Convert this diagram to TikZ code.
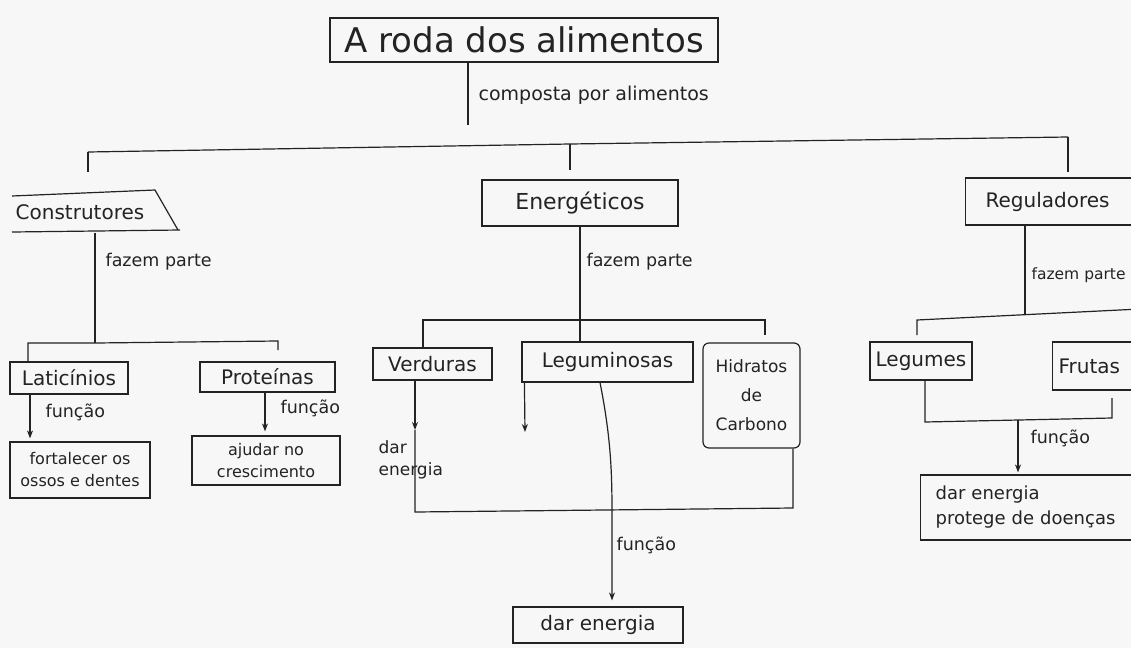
\documentclass[tikz,border=0pt]{standalone}
\usepackage{fontspec}
\setmainfont{DejaVu Sans}
\usetikzlibrary{arrows.meta,calc}
\definecolor{ink}{RGB}{35,35,35}
\definecolor{paper}{RGB}{247,247,247}
\begin{document}
\begin{tikzpicture}[x=1pt,y=-1pt,line width=1.2pt,draw=ink,text=ink,
  box/.style={draw=ink,rectangle,inner sep=0pt,align=center,font=\fontsize{20}{24}\selectfont},
  small/.style={draw=ink,rectangle,inner sep=0pt,align=center,font=\fontsize{16}{22}\selectfont},
  lbl/.style={inner sep=0pt,font=\fontsize{17.5}{22}\selectfont},
  arr/.style={-{Stealth[length=8pt,width=6pt]}}]
\useasboundingbox (0,0) rectangle (1131,648);
\fill[paper] (0,0) rectangle (1131,648);
\clip (0,0) rectangle (1131,648);

% ---------- nodes ----------
\node[box,font=\fontsize{34}{38}\selectfont,minimum width=388pt,minimum height=44pt] (title) at (524,40) {A roda dos alimentos};
\node[lbl,font=\fontsize{19}{23}\selectfont,anchor=west] (comp) at (478,95) {composta por alimentos};

\node[box,draw=none,minimum width=136pt,minimum height=40pt] (constr) at (80,212) {Construtores};
\node[box,font=\fontsize{22}{26}\selectfont,minimum width=196pt,minimum height=46pt] (ener) at (580,203) {Energéticos};
\node[box,anchor=west,align=left,text width=215pt,inner xsep=20pt,minimum height=47pt] (regul) at (965,201.5) {Reguladores};

\node[lbl,anchor=west] (fp1) at (105,262) {fazem parte};
\node[lbl,anchor=west] (fp2) at (586,262) {fazem parte};
\node[lbl,anchor=west,font=\fontsize{15.5}{20}\selectfont] (fp3) at (1031,275) {fazem parte};

\node[box,minimum width=118pt,minimum height=32pt] (lat) at (69,378) {Laticínios};
\node[box,minimum width=135pt,minimum height=30pt] (prot) at (267.5,377) {Proteínas};
\node[small,minimum width=140pt,minimum height=56pt] (fort) at (80,470) {fortalecer os\\ossos e dentes};
\node[small,minimum width=148pt,minimum height=49pt] (ajud) at (266,460.5) {ajudar no\\crescimento};
\node[lbl,anchor=west] (f1) at (45,412) {função};
\node[lbl,anchor=west] (f2) at (280,408) {função};

\node[box,minimum width=119pt,minimum height=32pt] (verd) at (432.5,364) {Verduras};
\node[box,minimum width=171pt,minimum height=40pt] (legum) at (607.5,362) {Leguminosas};
\node[box,rounded corners=6pt,font=\fontsize{17}{29}\selectfont,minimum width=97pt,minimum height=105pt] (hidr) at (751.5,395.5) {Hidratos\\de\\Carbono};
\node[lbl,anchor=north west,align=left,font=\fontsize{17}{22}\selectfont] (de1) at (378,440) {dar\\energia};
\node[lbl,anchor=west] (f3) at (616,545) {função};
\node[box,minimum width=170pt,minimum height=36pt] (darE) at (598,625) {dar energia};

\node[box,minimum width=102pt,minimum height=38pt] (legm) at (921,361) {Legumes};
\node[box,anchor=west,align=left,text width=100pt,inner xsep=6pt,minimum height=48pt] (fruta) at (1052,366) {Frutas};
\node[lbl,anchor=west] (f4) at (1030,438) {função};
\node[box,anchor=west,align=left,text width=230pt,inner xsep=15pt,minimum height=65pt,font=\fontsize{18}{25}\selectfont] (regE) at (920,507.5) {dar energia\\protege de doenças};

% ---------- Construtores outline ----------
\draw (12,196) -- (155,190) -- (178,230);
\draw (12,232) -- (180,230);

% ---------- top connectors ----------
\coordinate (tEnd) at (468,125);
\draw ([xshift=-56pt]title.south) -- (tEnd);
\coordinate (hL) at (88,152);
\coordinate (hM) at (570,144);
\coordinate (hR) at (1068,137);
\coordinate (dL) at (88,172);
\coordinate (dM) at (570,170);
\coordinate (dR) at (1068,172);
\draw (hL) -- (hM) -- (hR);
\draw (hL) -- (dL);
\draw (hM) -- (dM);
\draw (hR) -- (dR);

% ---------- Construtores branch ----------
\coordinate (cj) at (95,343);
\coordinate (cjL) at (28,343);
\coordinate (cjR) at (278,341);
\coordinate (cjRd) at (278,350);
\draw ([xshift=15pt]constr.south) -- (cj);
\draw (cjL |- lat.north) -- (cjL) -- (cj) -- (cjR) -- (cjRd);
\draw[arr,shorten >=3pt] ([xshift=-39pt]lat.south) -- ([xshift=-39pt]lat.south |- fort.north);
\draw[arr,shorten >=4pt] ([xshift=-2.5pt]prot.south) -- ([xshift=-2.5pt]prot.south |- ajud.north);

% ---------- Energeticos branch ----------
\draw (ener.south) -- (ener.south |- legum.north);
\coordinate (eL) at (423,320);
\coordinate (eR) at (765,320);
\coordinate (eRd) at (765,335);
\draw (eL |- verd.north) -- (eL) -- (eR) -- (eRd);
\coordinate (vA) at (415,430);
\coordinate (vB) at (415,512);
\coordinate (vC) at (793,508);
\draw[arr] ([xshift=-17.5pt]verd.south) -- (vA);
\draw (vA) -- (vB) -- (vC) -- ([xshift=41.5pt]hidr.south);
\coordinate (lgA) at (525,432);
\draw[arr] ([xshift=3pt]legum.south west) -- (lgA);
\coordinate (cv) at (612,520);
\draw[arr,shorten >=6pt] ([xshift=-7.5pt]legum.south) .. controls +(12,60) and +(0,-40) .. (cv) -- (cv |- darE.north);

% ---------- Reguladores branch ----------
\coordinate (rv) at (1025,314);
\draw ([xshift=60pt]regul.south west) -- (rv);
\coordinate (rL) at (917,320);
\coordinate (rR) at (1140,309);
\coordinate (rLd) at (917,335);
\draw (rLd) -- (rL) -- (rR);
\coordinate (bL) at (925,422);
\coordinate (bR) at (1112,418);
\coordinate (bRu) at (1112,398);
\coordinate (bj) at (1018,420);
\draw ([xshift=4pt]legm.south) -- (bL) -- (bR) -- (bRu);
\draw[arr,shorten >=2pt] (bj) -- (bj |- regE.north);
\end{tikzpicture}
\end{document}
